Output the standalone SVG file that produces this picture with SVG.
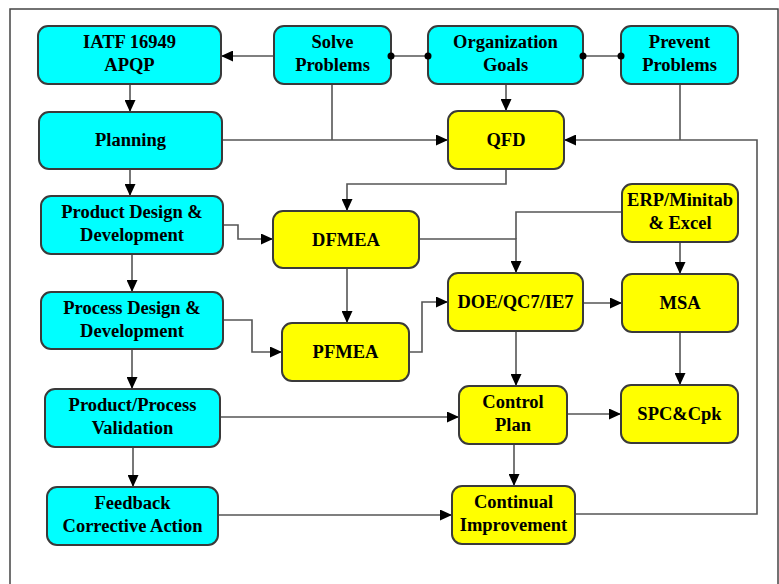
<svg xmlns="http://www.w3.org/2000/svg" width="779" height="584" viewBox="0 0 779 584">
<style>
.c{fill:#00FFFF;stroke:#3a3a3a;stroke-width:2}
.y{fill:#FFFF00;stroke:#3a3a3a;stroke-width:2}
text{font-family:"Liberation Serif","Times New Roman",serif;font-weight:bold;font-size:18.5px;fill:#000;text-anchor:middle}
.e{fill:none;stroke:#555;stroke-width:1.6}
.a{marker-end:url(#ar)}
</style>
<defs>
<marker id="ar" markerUnits="userSpaceOnUse" markerWidth="12" markerHeight="11" refX="12" refY="5.5" orient="auto">
<path d="M0,0 L12,5.5 L0,11 z" fill="#000"/>
</marker>
</defs>
<rect x="0" y="0" width="779" height="584" fill="#fff"/>
<rect x="10" y="9" width="768" height="590" fill="none" stroke="#444" stroke-width="1.5"/>
<g id="connectors">
<path class="e a" d="M274,56 H221"/>
<path class="e" d="M391,56 H428 M583,56 H621"/>
<path class="e a" d="M130,84 V112"/>
<path class="e" d="M332,84 V140"/>
<path class="e a" d="M222,140 H448"/>
<path class="e a" d="M506,84 V111"/>
<path class="e" d="M680,84 V140"/>
<path class="e a" d="M575,514 H757 V140 H564"/>
<path class="e a" d="M506,169 V184 H347 V211"/>
<path class="e a" d="M130,169 V196"/>
<path class="e a" d="M132,254 V292"/>
<path class="e a" d="M132,349 V389"/>
<path class="e a" d="M133,447 V487"/>
<path class="e a" d="M223,225 H238 V239 H273"/>
<path class="e a" d="M223,320 H252 V352 H282"/>
<path class="e a" d="M347,268 V323"/>
<path class="e a" d="M419,239 H516 V273"/>
<path class="e" d="M622,212 H516 V239"/>
<path class="e a" d="M409,352 H422 V302 H448"/>
<path class="e a" d="M583,303 H622"/>
<path class="e a" d="M680,242 V274"/>
<path class="e a" d="M516,331 V386"/>
<path class="e a" d="M680,332 V385"/>
<path class="e a" d="M220,417 H459"/>
<path class="e a" d="M567,414 H621"/>
<path class="e a" d="M514,444 V486"/>
<path class="e a" d="M218,515 H452"/>
</g>
<g id="iatf"><rect class="c" x="38" y="26" width="183" height="58" rx="10"/><text x="129.5" y="48">IATF 16949</text><text x="129.5" y="71">APQP</text></g>
<g id="solve"><rect class="c" x="274" y="26" width="117" height="58" rx="10"/><text x="332.5" y="48">Solve</text><text x="332.5" y="71">Problems</text></g>
<g id="org"><rect class="c" x="428" y="26" width="155" height="58" rx="10"/><text x="505.5" y="48">Organization</text><text x="505.5" y="71">Goals</text></g>
<g id="prevent"><rect class="c" x="621" y="26" width="117" height="58" rx="10"/><text x="679.5" y="48">Prevent</text><text x="679.5" y="71">Problems</text></g>
<g id="planning"><rect class="c" x="39" y="112" width="183" height="57" rx="10"/><text x="130.5" y="146">Planning</text></g>
<g id="qfd"><rect class="y" x="448" y="111" width="116" height="58" rx="10"/><text x="506" y="146">QFD</text></g>
<g id="productdesign"><rect class="c" x="41" y="196" width="182" height="58" rx="10"/><text x="132" y="218">Product Design &amp;</text><text x="132" y="241">Development</text></g>
<g id="dfmea"><rect class="y" x="273" y="211" width="146" height="57" rx="10"/><text x="346" y="245.5">DFMEA</text></g>
<g id="erp"><rect class="y" x="622" y="184" width="116" height="58" rx="10"/><text x="680" y="206">ERP/Minitab</text><text x="680" y="229">&amp; Excel</text></g>
<g id="processdesign"><rect class="c" x="41" y="292" width="182" height="57" rx="10"/><text x="132" y="313.5">Process Design &amp;</text><text x="132" y="336.5">Development</text></g>
<g id="pfmea"><rect class="y" x="282" y="323" width="127" height="58" rx="10"/><text x="345.5" y="358">PFMEA</text></g>
<g id="doe"><rect class="y" x="448" y="273" width="135" height="58" rx="10"/><text x="515.5" y="308">DOE/QC7/IE7</text></g>
<g id="msa"><rect class="y" x="622" y="274" width="116" height="58" rx="10"/><text x="680" y="309">MSA</text></g>
<g id="validation"><rect class="c" x="45" y="389" width="175" height="58" rx="10"/><text x="132.5" y="411">Product/Process</text><text x="132.5" y="434">Validation</text></g>
<g id="controlplan"><rect class="y" x="459" y="386" width="108" height="58" rx="10"/><text x="513" y="408">Control</text><text x="513" y="431">Plan</text></g>
<g id="spc"><rect class="y" x="621" y="385" width="117" height="58" rx="10"/><text x="679.5" y="420">SPC&amp;Cpk</text></g>
<g id="feedback"><rect class="c" x="47" y="487" width="171" height="58" rx="10"/><text x="132.5" y="509">Feedback</text><text x="132.5" y="532">Corrective Action</text></g>
<g id="continual"><rect class="y" x="452" y="486" width="123" height="58" rx="10"/><text x="513.5" y="508">Continual</text><text x="513.5" y="531">Improvement</text></g>
<g id="connector-dots" fill="#000">
<circle cx="391" cy="56" r="3.5"/><circle cx="428" cy="56" r="3.5"/>
<circle cx="583" cy="56" r="3.5"/><circle cx="621" cy="56" r="3.5"/>
</g>
</svg>
